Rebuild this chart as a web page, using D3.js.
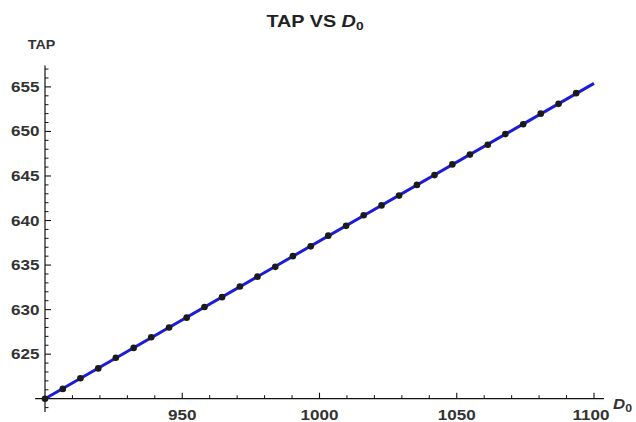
<!DOCTYPE html>
<html>
<head>
<meta charset="utf-8">
<script src="https://cdn.jsdelivr.net/npm/d3@7"></script>
<style>
  html, body { margin: 0; padding: 0; background: #ffffff; }
  svg { display: block; font-family: "Liberation Sans", Arial, sans-serif; }
</style>
</head>
<body>
<svg id="chart" width="636" height="422"></svg>
<script>
// Sampled TAP values against D0
const pointD0 = [900.0, 906.5, 912.9, 919.4, 925.8, 932.3, 938.7, 945.2, 951.6, 958.1,
                 964.5, 971.0, 977.4, 983.9, 990.3, 996.8, 1003.2, 1009.7, 1016.1, 1022.6,
                 1029.0, 1035.5, 1041.9, 1048.4, 1054.8, 1061.3, 1067.7, 1074.2, 1080.6, 1087.1,
                 1093.5];
const pointTAP = [620.0, 621.1, 622.3, 623.4, 624.6, 625.7, 626.9, 628.0, 629.1, 630.3,
                  631.4, 632.6, 633.7, 634.8, 636.0, 637.1, 638.3, 639.4, 640.6, 641.7,
                  642.8, 644.0, 645.1, 646.3, 647.4, 648.5, 649.7, 650.8, 652.0, 653.1,
                  654.3];

// Fitted straight line
const lineD0 = [900, 1100];
const lineTAP = [620, 655.4];

// Axis ticks
const xMajor = [950, 1000, 1050, 1100];
const yMajor = [625, 630, 635, 640, 645, 650, 655];

const svg = d3.select("#chart");

const x = d3.scaleLinear().domain([900, 1100]).range([45, 594]);
const y = d3.scaleLinear().domain([620, 655]).range([398.7, 86.9]);

const xLo = 896.4, xHi = 1103.6, yLo = 618.5, yHi = 657.4;
const axisColor = "#111";
const labelColor = "#333";
const stretch = 1.22; // glyphs are drawn a little wider than they are tall

// Axis lines (crossing at the origin 900, 620)
svg.append("line")
  .attr("x1", x(xLo)).attr("x2", x(xHi))
  .attr("y1", y(620)).attr("y2", y(620))
  .attr("stroke", axisColor).attr("stroke-width", 1.2);
svg.append("line")
  .attr("x1", x(900)).attr("x2", x(900))
  .attr("y1", y(yLo)).attr("y2", y(yHi))
  .attr("stroke", axisColor).attr("stroke-width", 1.2);

// x ticks: majors every 50, minors every 10, pointing into the plot
const xMinor = d3.range(910, 1101, 10).filter(v => v % 50 !== 0);
svg.append("g").selectAll("line").data(xMajor).join("line")
  .attr("x1", d => x(d)).attr("x2", d => x(d))
  .attr("y1", y(620)).attr("y2", y(620) - 6)
  .attr("stroke", axisColor).attr("stroke-width", 1.1);
svg.append("g").selectAll("line").data(xMinor).join("line")
  .attr("x1", d => x(d)).attr("x2", d => x(d))
  .attr("y1", y(620)).attr("y2", y(620) - 3.5)
  .attr("stroke", axisColor).attr("stroke-width", 1);
// the last label is nudged left so it clears the axis title
svg.append("g").selectAll("text").data(xMajor).join("text")
  .attr("transform", (d, i) => `translate(${x(d) - (i === xMajor.length - 1 ? 3 : 0)},420) scale(${stretch},1)`)
  .attr("text-anchor", "middle")
  .attr("font-size", 14).attr("font-weight", "bold")
  .attr("fill", labelColor)
  .text(d => d);

// y ticks: majors every 5, minors every 1
const yMinor = d3.range(619, 658, 1).filter(v => v % 5 !== 0);
svg.append("g").selectAll("line").data(yMajor).join("line")
  .attr("x1", x(900)).attr("x2", x(900) + 6)
  .attr("y1", d => y(d)).attr("y2", d => y(d))
  .attr("stroke", axisColor).attr("stroke-width", 1.1);
svg.append("g").selectAll("line").data(yMinor).join("line")
  .attr("x1", x(900)).attr("x2", x(900) + 3.5)
  .attr("y1", d => y(d)).attr("y2", d => y(d))
  .attr("stroke", axisColor).attr("stroke-width", 1);
svg.append("g").selectAll("text").data(yMajor).join("text")
  .attr("transform", d => `translate(39.5,${y(d) + 5}) scale(${stretch},1)`)
  .attr("text-anchor", "end")
  .attr("font-size", 14).attr("font-weight", "bold")
  .attr("fill", labelColor)
  .text(d => d);

// Fitted line
const lineData = lineD0.map((d, i) => [d, lineTAP[i]]);
svg.append("path")
  .datum(lineData)
  .attr("d", d3.line().x(d => x(d[0])).y(d => y(d[1])))
  .attr("fill", "none")
  .attr("stroke", "#1c1cd6")
  .attr("stroke-width", 3);

// Sample points
svg.append("g").selectAll("circle")
  .data(pointD0.map((d, i) => [d, pointTAP[i]]))
  .join("circle")
  .attr("cx", d => x(d[0])).attr("cy", d => y(d[1]))
  .attr("r", 3.3)
  .attr("fill", "#1a1a1a");

// Axis labels
svg.append("text")
  .attr("transform", "translate(41.5,49) scale(1.1,1)")
  .attr("text-anchor", "middle")
  .attr("font-size", 13).attr("font-weight", "bold")
  .attr("fill", labelColor)
  .text("TAP");

const xl = svg.append("text")
  .attr("transform", "translate(613,409) scale(1.12,1)")
  .attr("font-size", 15).attr("font-weight", "bold")
  .attr("fill", labelColor);
xl.append("tspan").attr("font-style", "italic").text("D");
xl.append("tspan").attr("font-size", 11).attr("dy", 3).text("0");

// Title
const t = svg.append("text")
  .attr("transform", "translate(315,27) scale(1.2,1)")
  .attr("text-anchor", "middle")
  .attr("font-size", 16.5).attr("font-weight", "bold")
  .attr("fill", "#222");
t.append("tspan").text("TAP VS ");
t.append("tspan").attr("font-style", "italic").text("D");
t.append("tspan").attr("font-size", 11.5).attr("dy", 3).text("0");
</script>
</body>
</html>
